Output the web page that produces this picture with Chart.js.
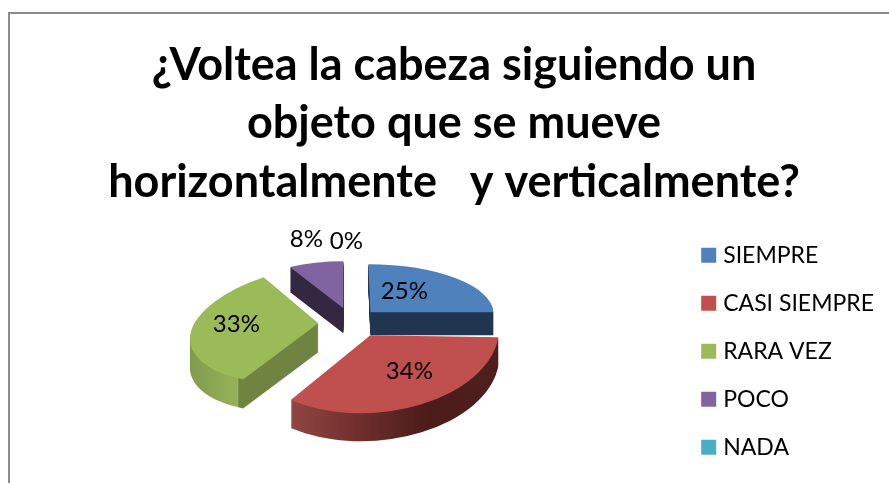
<!DOCTYPE html>
<html><head><meta charset="utf-8">
<script src="https://cdn.jsdelivr.net/npm/chart.js@4"></script>
<style>
html,body{margin:0;padding:0;background:#fff;width:889px;height:483px;overflow:hidden}
#frame{position:absolute;left:8px;top:12px;width:881px;height:471px;border-left:2px solid #8c8c8c;border-top:2px solid #8c8c8c;box-sizing:border-box}
#wrap{position:absolute;left:24px;top:2px;width:865px;height:481px;overflow:hidden}
</style></head><body>
<div id="frame"></div>
<div id="wrap"><canvas id="c" width="865" height="483"></canvas></div>
<script>
const titleLines = ["¿Voltea la cabeza siguiendo un","objeto que se mueve","horizontalmente   y verticalmente?"];
const categories = ["SIEMPRE","CASI SIEMPRE","RARA VEZ","POCO","NADA"];
const percentValues = [25,34,33,8,0];
const sliceColors = ["#4f81bd","#c0504d","#9bbb59","#8064a2","#4bacc6"];

// Projection of each slice: tilt matrix [a,b,c,d], shift from pie centre, wall depth
const sliceTilt = [[123,0,2,48],[128,2,-13,78],[128,-12,-8,59],[111,0,0,47],[100,0,0,50]];
const sliceShift = [[18,-39],[18,-16],[-34,-28],[-9,-43],[0,0]];
const sliceDepth = [23,28,29,25,0];
const wallStops = [
 [[0,"#1f3550"],[1,"#1f3550"]],
 [[0,"#964946"],[0.38,"#70302e"],[0.72,"#4b1c1a"],[1,"#4d1f1d"]],
 [[0,"#7f9a4a"],[0.21,"#96b35a"],[0.215,"#6e8440"],[1,"#6e8440"]],
 [[0,"#332840"],[1,"#332840"]],
 [[0,"#333"],[1,"#333"]]];
const wallSpan = [[-1,1],[-0.62,1],[-1,1],[-1,1],[-1,1]];
const labelShift = [[52,-60],[57,20],[-116,-27],[-46,-112],[-6,-110]];
const drawOrder = [0,3,2,1,4];

const pie3d = {
 id:'pie3d',
 beforeDatasetDraw(){return false;},
 afterDatasetsDraw(chart){
  const ctx=chart.ctx, arcs=chart.getDatasetMeta(0).data;
  const withTilt=(arc,i,dy,fn)=>{
   const R=arc.outerRadius,[a,b,c,d]=sliceTilt[i],[sx,sy]=sliceShift[i];
   ctx.save();
   ctx.translate(arc.x+sx,arc.y+sy+dy);
   ctx.transform(a/R,b/R,c/R,d/R,0,0);
   ctx.translate(-arc.x,-arc.y);
   fn();
   ctx.restore();
  };
  drawOrder.forEach(i=>{
   const arc=arcs[i]; if(!percentValues[i])return;
   const R=arc.outerRadius;
   const g=ctx.createLinearGradient(arc.x+wallSpan[i][0]*R,0,arc.x+wallSpan[i][1]*R,0);
   wallStops[i].forEach(s=>g.addColorStop(s[0],s[1]));
   const wall=Object.create(arc);
   wall.options=Object.assign({},arc.options,{backgroundColor:g,borderWidth:0});
   for(let k=sliceDepth[i];k>=1;k--) withTilt(arc,i,k,()=>wall.draw(ctx));
   withTilt(arc,i,0,()=>arc.draw(ctx));
  });
  ctx.save();
  ctx.fillStyle='#000';ctx.font='24px Lato';ctx.textAlign='center';ctx.textBaseline='middle';
  arcs.forEach((arc,i)=>{
   ctx.fillText(percentValues[i]+'%',arc.x+labelShift[i][0],arc.y+labelShift[i][1]);
  });
  ctx.restore();
 }
};

new Chart(document.getElementById('c'),{
 type:'pie',
 data:{labels:categories,datasets:[{data:percentValues,backgroundColor:sliceColors,borderWidth:0}]},
 plugins:[pie3d],
 options:{
  responsive:false,animation:false,
  layout:{padding:{right:5,left:0,top:0,bottom:0}},
  plugins:{
   tooltip:{enabled:false},
   title:{display:true,text:titleLines,color:'#000',font:{family:'Lato',size:45,weight:'bold',lineHeight:1.3},padding:{top:34,bottom:6}},
   legend:{position:'right',fullSize:false,labels:{boxWidth:6,boxHeight:15,usePointStyle:true,pointStyle:'rect',padding:25,color:'#000',font:{family:'Lato',size:23}}}
  }
 }
});
</script></body></html>
